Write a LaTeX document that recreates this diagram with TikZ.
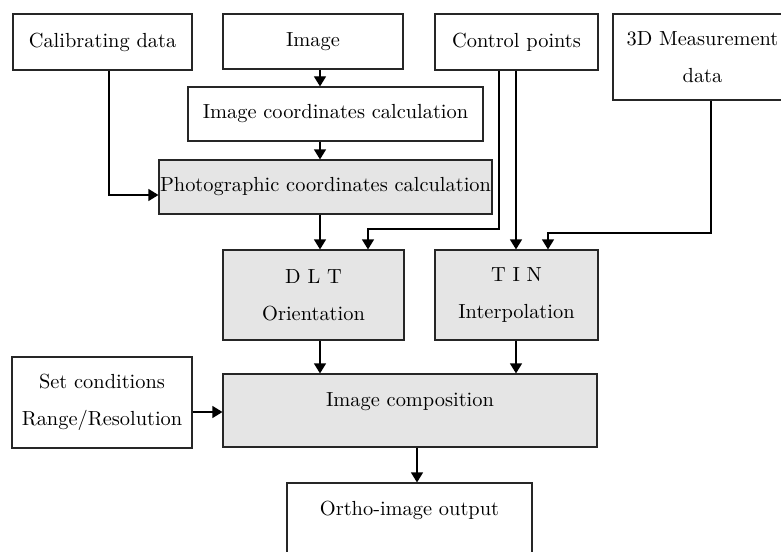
\documentclass[tikz,border=0pt]{standalone}
\usetikzlibrary{arrows.meta}
\begin{document}
\begin{tikzpicture}[x=0.5pt,y=-0.5pt,
  box/.style={draw=black!85,line width=0.6pt,fill=white,inner sep=0pt,align=center,
    font=\fontsize{10.2}{18.7}\selectfont},
  gbox/.style={box,fill=black!10},
  arr/.style={draw=black,line width=0.6pt,-{Triangle[width=6pt,length=5pt]}},
  lbl/.style={inner sep=0pt,font=\fontsize{10.2}{18.7}\selectfont}]
\useasboundingbox (0,0) rectangle (781,551);
\clip (0,0) rectangle (781,551);
\fill[white] (0,0) rectangle (781,551);
% boxes
\node[box,minimum width=89.5pt,minimum height=28pt] (calib) at (102.5,42) {Calibrating data};
\node[box,minimum width=90pt,minimum height=27.5pt] (image) at (313,41.5) {Image};
\node[box,minimum width=147.5pt,minimum height=27pt] (imgcoord) at (335.5,114) {Image coordinates calculation};
\node[gbox,minimum width=166.5pt,minimum height=27pt] (photo) at (325.5,187) {Photographic coordinates calculation};
\node[box,minimum width=81.5pt,minimum height=28pt] (ctrl) at (516.5,42) {Control points};
\node[box,minimum width=89.5pt,minimum height=43pt] (meas) at (702.5,57) {3D Measurement\\data};
\node[gbox,minimum width=90.5pt,minimum height=45pt] (dlt) at (313.5,295) {D~L~T\\Orientation};
\node[gbox,minimum width=81.5pt,minimum height=45pt] (tin) at (516.5,295) {T~I~N\\Interpolation};
\node[gbox,minimum width=187pt,minimum height=36.5pt] (comp) at (410,410.5) {};
\node[lbl] (comptext) at (410,402) {Image composition};
\node[box,minimum width=90pt,minimum height=45.5pt] (setc) at (102,402.5) {Set conditions\\Range/Resolution};
\node[box,minimum width=122.5pt,minimum height=40pt] (ortho) at (409.5,523) {};
\node[lbl] (orthotext) at (409.5,510) {Ortho-image output};
% helper coordinates
\coordinate (c109) at (109,0);
\coordinate (c320) at (320,0);
\coordinate (c368) at (368,0);
\coordinate (c417) at (417,0);
\coordinate (c499) at (499,0);
\coordinate (c516) at (516,0);
\coordinate (c548) at (548,0);
\coordinate (c711) at (711,0);
\coordinate (r195) at (0,195);
\coordinate (r229) at (0,229);
\coordinate (r233) at (0,233);
\coordinate (r412) at (0,412);
% connectors
\draw[arr] (image.south -| c320) -- (imgcoord.north -| c320);
\draw[arr] (imgcoord.south -| c320) -- (photo.north -| c320);
\draw[arr] (calib.south -| c109) -- (r195 -| c109) -- (r195 -| photo.west);
\draw[arr] (photo.south -| c320) -- (dlt.north -| c320);
\draw[arr] (ctrl.south -| c499) -- (r229 -| c499) -- (r229 -| c368) -- (dlt.north -| c368);
\draw[arr] (ctrl.south -| c516) -- (tin.north -| c516);
\draw[arr] (meas.south -| c711) -- (r233 -| c711) -- (r233 -| c548) -- (tin.north -| c548);
\draw[arr] (dlt.south -| c320) -- (comp.north -| c320);
\draw[arr] (tin.south -| c516) -- (comp.north -| c516);
\draw[arr] (setc.east |- r412) -- (comp.west |- r412);
\draw[arr] (comp.south -| c417) -- (ortho.north -| c417);
\end{tikzpicture}
\end{document}
